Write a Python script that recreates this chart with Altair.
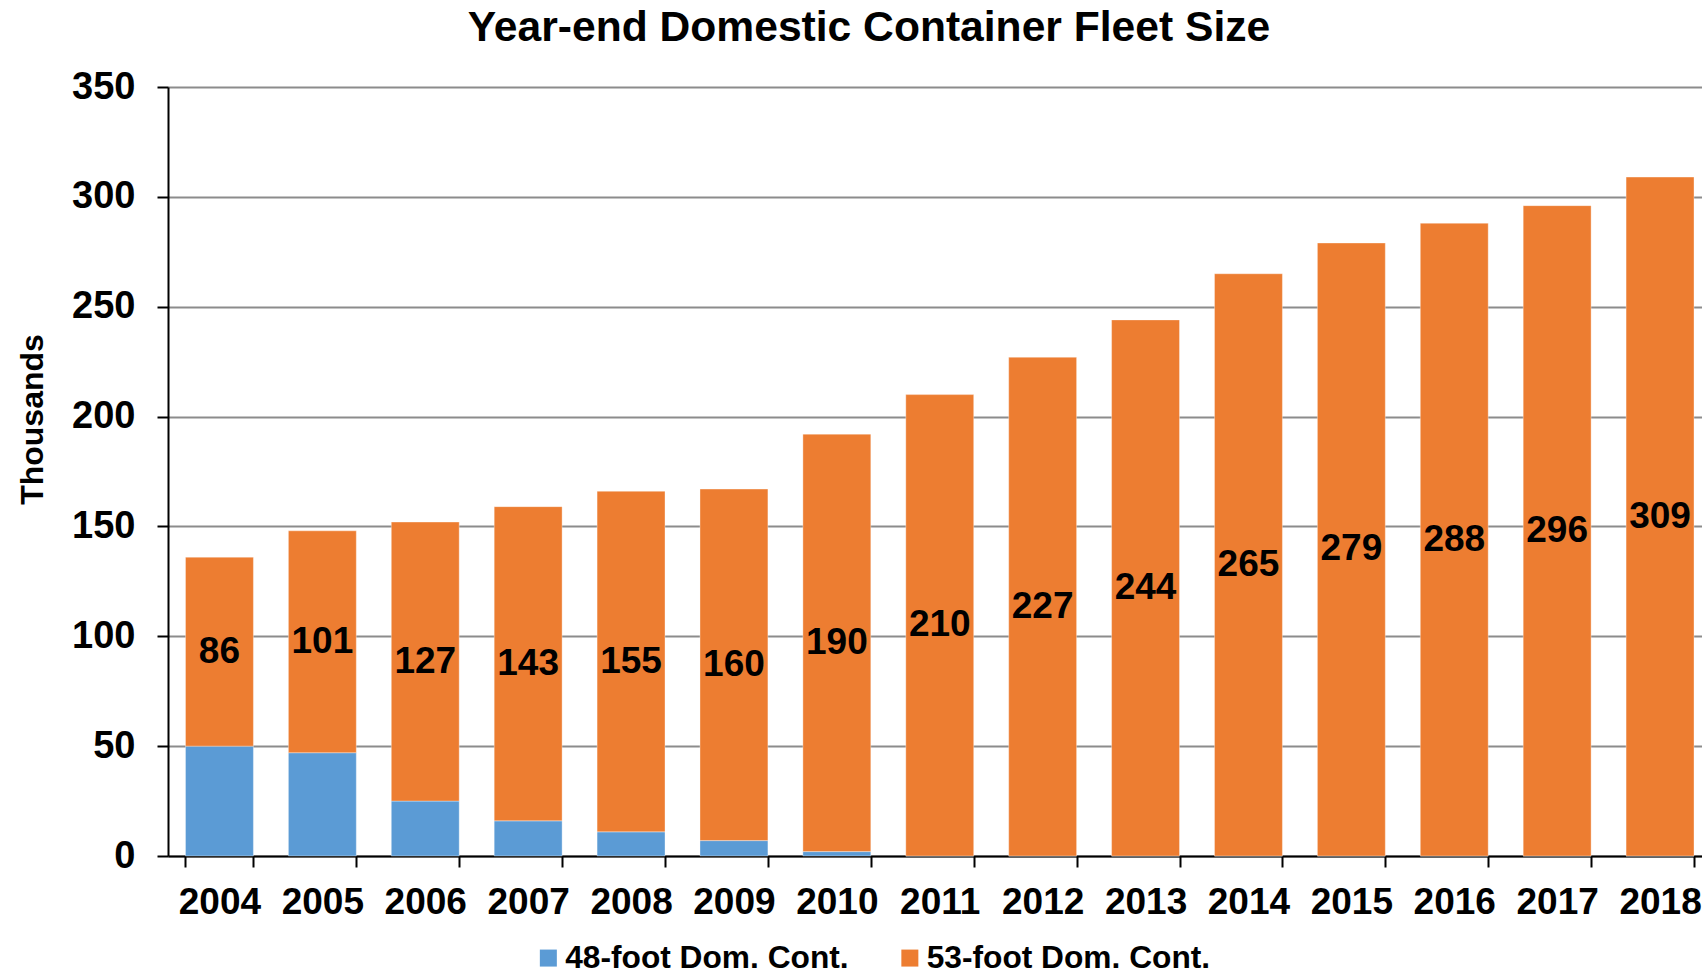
import altair as alt
import pandas as pd

FONT = "Liberation Sans"

years = [str(y) for y in range(2004, 2019)]
foot48 = [50, 47, 25, 16, 11, 7, 2, 0, 0, 0, 0, 0, 0, 0, 0]
foot53 = [86, 101, 127, 143, 155, 160, 190, 210, 227, 244, 265, 279, 288, 296, 309]
series = ["48-foot Dom. Cont.", "53-foot Dom. Cont."]
colors = ["#5B9BD5", "#ED7D31"]
y_ticks = [0, 50, 100, 150, 200, 250, 300, 350]

rows = []
for i, yr in enumerate(years):
    rows.append({"year": yr, "series": series[0], "value": foot48[i], "order": 0})
    rows.append({"year": yr, "series": series[1], "value": foot53[i], "order": 1})
df = pd.DataFrame(rows)
lab = pd.DataFrame({"year": years, "base": foot48, "v53": foot53})

W, H = 1534, 769
xscale = alt.Scale(domain=years, range=[0, 1543.5], paddingInner=0.34, paddingOuter=0.17)
yscale = alt.Scale(domain=[0, 350], nice=False)

bars = alt.Chart(df).mark_bar(stroke="#ffffff", strokeWidth=1, strokeOpacity=0.35).encode(
    x=alt.X("year:N", scale=xscale, sort=years,
            axis=alt.Axis(title=None, labelAngle=0, tickBand="extent", tickSize=11,
                          labelPadding=17, labelFontSize=37, grid=False)),
    y=alt.Y("value:Q", scale=yscale, stack="zero",
            axis=alt.Axis(title="Thousands", values=y_ticks, tickSize=11, labelPadding=22,
                          labelFontSize=38, grid=True, titleAngle=270, titleX=-136, titleY=332,
                          titleAlign="center", titleBaseline="middle", titleFontSize=32)),
    color=alt.Color("series:N", scale=alt.Scale(domain=series, range=colors),
                    legend=alt.Legend(orient="none", legendX=364.5, legendY=855, direction="horizontal",
                                      title=None, symbolType="square", symbolSize=289,
                                      symbolStrokeWidth=0, labelFontSize=31.7, labelFont=FONT,
                                      labelFontWeight="bold", labelColor="#000000", labelOffset=1,
                                      labelLimit=0, columnPadding=44.5, padding=0)),
    order=alt.Order("order:Q", sort="ascending"),
)

labels = alt.Chart(lab).transform_calculate(
    mid="datum.base + datum.v53 / 2"
).mark_text(font=FONT, fontWeight="bold", fontSize=37, color="#000000", baseline="middle").encode(
    x=alt.X("year:N", scale=xscale, sort=years),
    y=alt.Y("mid:Q", scale=yscale),
    text=alt.Text("v53:Q"),
)

chart = alt.layer(bars, labels).properties(
    width=W, height=H,
    padding={"left": 168, "top": 87, "right": 0, "bottom": 121},
    autosize=alt.AutoSizeParams(type="none"),
    title=alt.TitleParams("Year-end Domestic Container Fleet Size", font=FONT, fontSize=42.6,
                          fontWeight="bold", color="#000000", anchor="middle", frame="group",
                          dx=-66, dy=49, offset=33, baseline="alphabetic"),
).configure_view(stroke=None).configure_axis(
    labelFont=FONT, labelFontWeight="bold", labelColor="#000000",
    titleFont=FONT, titleFontWeight="bold", titleColor="#000000",
    domainColor="#000000", domainWidth=2, tickColor="#000000", tickWidth=2,
    gridColor="#8c8c8c", gridWidth=2,
)

chart.save("out.html", embed_options={"renderer": "svg", "actions": False})
